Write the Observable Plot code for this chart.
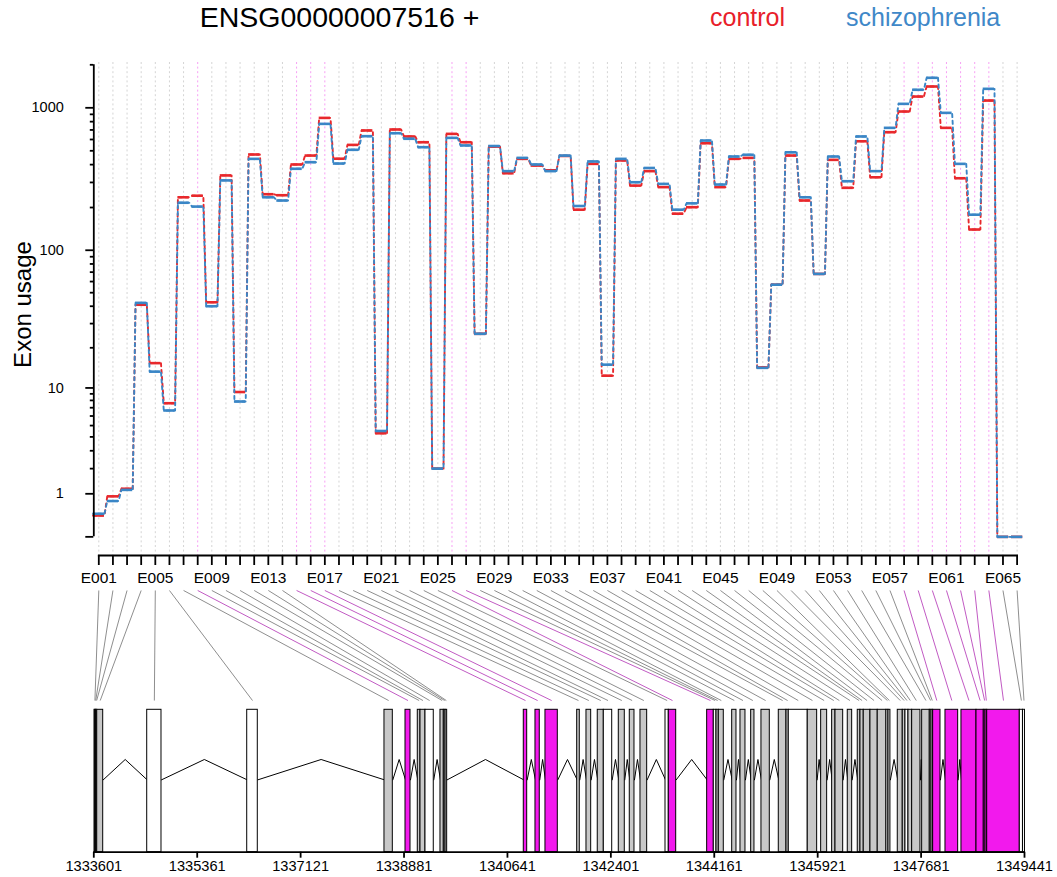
<!DOCTYPE html>
<html><head><meta charset="utf-8">
<script src="https://cdn.jsdelivr.net/npm/d3@7"></script>
<script src="https://cdn.jsdelivr.net/npm/@observablehq/plot@0.6"></script>
<style>
body{margin:0;background:#fff;font-family:"Liberation Sans",Arial,sans-serif;}
#wrap{position:relative;width:1057px;height:877px;overflow:hidden;background:#fff;}
.abs{position:absolute;white-space:nowrap;line-height:1;}
</style></head><body>
<div id="wrap">
 <div id="top" class="abs" style="left:0;top:0"></div>
 <div id="bottom" class="abs" style="left:0;top:586px"></div>
 <div class="abs" style="left:339.5px;top:3px;transform:translateX(-50%);font-size:28.5px;color:#000">ENSG00000007516 +</div>
 <div class="abs" style="left:710px;top:4.5px;font-size:25px;color:#E8202A">control</div>
 <div class="abs" style="left:846px;top:4.5px;font-size:25px;color:#3F88C8">schizophrenia</div>
</div>
<script>
const exonIds = ["E001","E002","E003","E004","E005","E006","E007","E008","E009","E010","E011","E012","E013","E014","E015","E016","E017","E018","E019","E020","E021","E022","E023","E024","E025","E026","E027","E028","E029","E030","E031","E032","E033","E034","E035","E036","E037","E038","E039","E040","E041","E042","E043","E044","E045","E046","E047","E048","E049","E050","E051","E052","E053","E054","E055","E056","E057","E058","E059","E060","E061","E062","E063","E064","E065","E066"];
const control = [0.41,0.92,1.17,41,15.4,7.6,236,242,42.7,336,9.3,471,248,244,401,463,850,440,550,694,4.3,705,630,574,2.0,657,574,25.3,535,348,439,394,365,460,193,405,12.4,428,285,360,278,181,201,565,278,439,446,14.3,57,463,224,68,432,275,583,326,675,942,1199,1410,724,321,140,1124,0,0];
const schizophrenia = [0.45,0.78,1.13,42.3,13.3,6.65,216,203,40,310,7.84,439,236,224,374,416,772,407,508,633,4.5,664,607,530,2.0,616,545,25.3,540,360,446,401,360,463,205,421,15.0,439,301,379,293,193,214,590,290,456,469,14.2,57,488,236,68,456,306,630,360,724,1066,1337,1622,922,405,178,1358,0,0];
const significant = ["E008","E015","E016","E017","E026","E027","E058","E059","E060","E061","E062","E063","E064"];
const lowExons = ["E005","E006","E011","E021","E025","E028","E037","E048","E052","E065","E066"];
const exonStart = [1333613,1333627,1333640,1333659,1334510,1336212,1338548,1338906,1339115,1339161,1339246,1339501,1339558,1339587,1340919,1341118,1341288,1341828,1341986,1342178,1342281,1342536,1342723,1342905,1343331,1343387,1344040,1344153,1344199,1344238,1344466,1344607,1344789,1344964,1345259,1345390,1345429,1345752,1345980,1346167,1346224,1346433,1346603,1346649,1346705,1346819,1346943,1347091,1347125,1347284,1347369,1347415,1347466,1347529,1347699,1347829,1347858,1347886,1348096,1348368,1348624,1348748,1348777,1348806,1349361,1349415];
const exonEnd = [1333627,1333640,1333659,1333761,1334753,1336392,1338690,1338991,1339161,1339246,1339387,1339558,1339587,1339615,1340977,1341191,1341498,1341872,1342066,1342281,1342424,1342638,1342803,1343019,1343387,1343513,1344153,1344199,1344238,1344323,1344539,1344692,1344845,1345106,1345390,1345429,1345752,1345912,1346082,1346224,1346355,1346508,1346649,1346705,1346819,1346943,1347091,1347125,1347159,1347369,1347415,1347466,1347529,1347670,1347829,1347858,1347886,1348011,1348312,1348624,1348748,1348777,1348806,1349361,1349415,1349449];
const genomicTicks = [1333601,1335361,1337121,1338881,1340641,1342401,1344161,1345921,1347681,1349441];
const yMajor = [0,1,10,100,1000];
const yMajorLabels = ["","1","10","100","1000"];
const yMinor = [2,3,4,5,6,7,8,9,20,30,40,50,60,70,80,90,200,300,400,500,600,700,800,900,2000];

const FONT = '"Liberation Sans", Arial, sans-serif';
const RED = "#E8282C", BLUE = "#3A86C6";
const sigSet = new Set(significant), lowSet = new Set(lowExons);
const idx = exonIds.map((d, i) => i + 1);

function stepPoints(values) {
  const pts = [];
  values.forEach((v, i) => { pts.push({x: i + 1 - 0.4, y: v}); pts.push({x: i + 1 + 0.4, y: v}); });
  return pts;
}
function segs(values) { return values.map((v, i) => ({x1: i + 1 - 0.4, x2: i + 1 + 0.4, y: v})); }
const xAopts = {domain: [1, 66], range: [98.3, 1016.6]};

function series(values, color, offset) {
  return [
    Plot.line(stepPoints(values), {x: "x", y: "y", stroke: color, strokeWidth: 1.9, strokeDasharray: "3.2,3.6", strokeDashoffset: offset}),
    Plot.ruleY(segs(values), {x1: "x1", x2: "x2", y: "y", stroke: color, strokeWidth: 2.6})
  ];
}

const plotA = Plot.plot({
  width: 1057, height: 586,
  marginLeft: 93.3, marginRight: 40.4, marginTop: 62, marginBottom: 31,
  style: {fontFamily: FONT, background: "transparent", color: "#000"},
  x: xAopts,
  y: {type: "symlog", constant: 1, domain: [0, 2000], range: [536.35, 64.3]},
  marks: [
    Plot.ruleX(idx, {x: d => d, stroke: d => sigSet.has(exonIds[d - 1]) ? "#F7A0F4" : "#D4D4D4", strokeDasharray: "2,2.6", strokeWidth: 1}),
    ...series(control, RED, 0),
    ...series(schizophrenia, BLUE, 2),
    Plot.axisY({ticks: yMinor, tickSize: 3.5, tickFormat: () => "", strokeWidth: 1.8, label: null}),
    Plot.axisY({ticks: yMajor, tickSize: 8, tickFormat: () => "", strokeWidth: 1.8, label: null}),
    Plot.text(yMajor, {y: d => d, text: (d, i) => yMajorLabels[i], frameAnchor: "left", textAnchor: "end", dx: -30, fontSize: 14.5}),
    Plot.ruleX([1], {y1: 0, y2: 2000, dx: -5, strokeWidth: 1.8}),
    Plot.axisX({ticks: idx, tickSize: 10, tickPadding: 6.6, tickFormat: i => (i - 1) % 4 === 0 ? exonIds[i - 1] : "", fontSize: 15.5, strokeWidth: 1.8, label: null}),
    Plot.frame({anchor: "bottom", insetLeft: 5, strokeWidth: 1.8}),
    Plot.text(["Exon usage"], {frameAnchor: "left", textAnchor: "middle", dx: -70.8, dy: -4.5, rotate: -90, fontSize: 24})
  ]
});
document.getElementById("top").appendChild(plotA);

const xBopts = {domain: [1333601, 1349441], range: [93.3, 1024]};
const xBscale = Plot.scale({x: xBopts});
const xAscale = plotA.scale("x");
const exons = exonIds.map((id, i) => ({
  id, start: exonStart[i], end: exonEnd[i], mid: (exonStart[i] + exonEnd[i]) / 2,
  sig: sigSet.has(id),
  fill: sigSet.has(id) ? "#F219ED" : lowSet.has(id) ? "#FFFFFF" : "#C8C8C8",
  top: xBscale.invert(xAscale.apply(i + 1))
}));
const introns = [];
for (let i = 0; i < exons.length - 1; i++) {
  const a = exons[i].end, b = exons[i + 1].start;
  if (b > a) {
    introns.push({k: i, x: a, y: 0.508});
    introns.push({k: i, x: (a + b) / 2, y: 0.651});
    introns.push({k: i, x: b, y: 0.508});
  }
}
const plotB = Plot.plot({
  width: 1057, height: 291,
  marginLeft: 93.3, marginRight: 33, marginTop: 0, marginBottom: 25.3,
  style: {fontFamily: FONT, background: "transparent", color: "#000"},
  x: xBopts,
  y: {domain: [0, 1], range: [265.7, 123.3], axis: null},
  marks: [
    Plot.link(exons, {x1: "top", y1: 1.838, x2: "mid", y2: 1.065, stroke: d => d.sig ? "#B63CB8" : "#7A7A7A", strokeWidth: 0.85}),
    Plot.line(introns, {x: "x", y: "y", z: "k", stroke: "#000", strokeWidth: 1}),
    Plot.rect(exons, {x1: "start", x2: "end", y1: 0, y2: 1, fill: "fill", stroke: "#000", strokeWidth: 1}),
    Plot.ruleY([0], {x1: genomicTicks[0], x2: genomicTicks[genomicTicks.length - 1], strokeWidth: 1.8}),
    Plot.axisX({ticks: genomicTicks, tickSize: 6, tickPadding: 2, tickFormat: d => String(d), fontSize: 14.6, strokeWidth: 1.8, label: null})
  ]
});
document.getElementById("bottom").appendChild(plotB);
</script>
</body></html>
